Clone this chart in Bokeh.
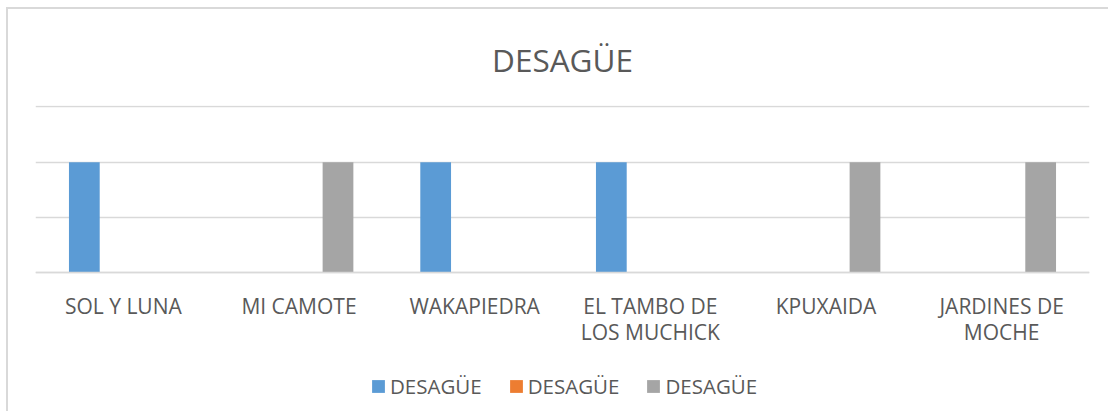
from bokeh.plotting import figure
from bokeh.models import ColumnDataSource, Legend, LegendItem, FactorRange, Range1d, FixedTicker
from bokeh.transform import dodge
from bokeh.embed import file_html
from bokeh.resources import INLINE

# ---- data ----
categories = ["SOL Y LUNA", "MI CAMOTE", "WAKAPIEDRA", "EL TAMBO DE\nLOS MUCHICK", "KPUXAIDA", "JARDINES DE\nMOCHE"]
series_names = ["DESAGÜE", "DESAGÜE", "DESAGÜE"]
serie_1 = [2, 0, 2, 2, 0, 0]
serie_2 = [0, 0, 0, 0, 0, 0]
serie_3 = [0, 2, 0, 0, 2, 2]
colors = ["#5B9BD5", "#ED7D31", "#A5A5A5"]
grid_values = [0, 1, 2, 3]
title_text = "DESAGÜE"

source = ColumnDataSource(dict(cat=categories, s1=serie_1, s2=serie_2, s3=serie_3))

FONT = "Open Sans"
TXT = "#595959"
GRID = "#d9d9d9"

p = figure(
    x_range=FactorRange(*categories, range_padding=0),
    y_range=Range1d(-2.554, 3.027),
    width=1102, height=404,
    output_backend="svg", toolbar_location=None,
    min_border_left=27, min_border_right=21, min_border_top=96, min_border_bottom=0,
    title=title_text,
)
p.styles = {"margin-left": "6px", "margin-top": "7px",
            "border-top": "2px solid #d9d9d9", "border-left": "2px solid #d9d9d9"}
p.background_fill_color = "white"
p.border_fill_color = "white"
p.outline_line_color = None

p.title.text_font = FONT
p.title.text_font_size = "31.5px"
p.title.text_font_style = "normal"
p.title.text_color = TXT
p.title.align = "center"
p.title.text_line_height = 1.0
p.title.standoff = 50

offsets = [-0.222, 0.0, 0.222]
keys = ["s1", "s2", "s3"]
renderers = []
for k, off, c in zip(keys, offsets, colors):
    r = p.vbar(x=dodge("cat", off, range=p.x_range), top=k, width=0.175, source=source,
               fill_color=c, line_color=None)
    renderers.append(r)

p.yaxis.visible = False
p.ygrid.ticker = FixedTicker(ticks=grid_values)
p.ygrid.grid_line_color = GRID
p.ygrid.grid_line_width = 1.5
p.xgrid.grid_line_color = None

ax = p.xaxis[0]
ax.fixed_location = 0
ax.axis_line_color = GRID
ax.axis_line_width = 1.5
ax.major_tick_line_color = None
ax.minor_tick_line_color = None
ax.major_label_text_font = FONT
ax.major_label_text_font_size = "21px"
ax.major_label_text_color = TXT
ax.major_label_text_line_height = 0.95
ax.major_label_standoff = 13

legend = Legend(items=[LegendItem(label=n, renderers=[r]) for n, r in zip(series_names, renderers)],
                orientation="horizontal", location=(335, 13))
legend.label_text_font = FONT
legend.label_text_font_size = "20.5px"
legend.label_text_color = TXT
legend.glyph_width = 16
legend.glyph_height = 16
legend.label_standoff = 4
legend.spacing = 26
legend.border_line_color = None
legend.background_fill_alpha = 0
legend.padding = 0
legend.margin = 0
p.add_layout(legend, "center")

open("out.html", "w").write(file_html(p, INLINE))
